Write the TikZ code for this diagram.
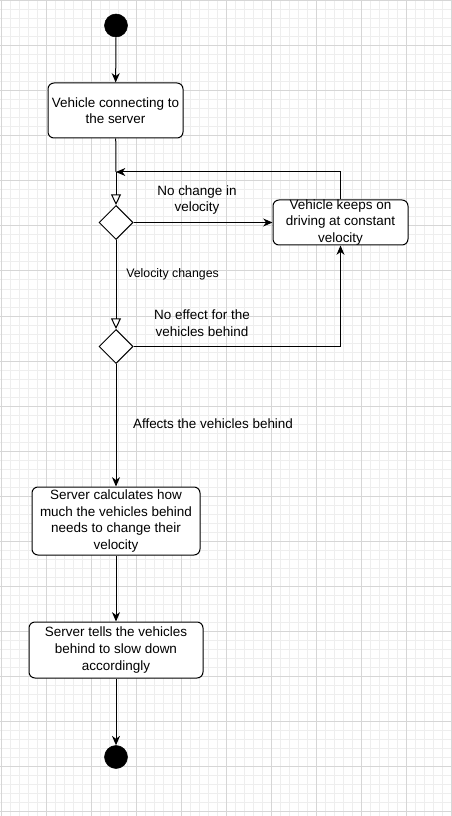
\documentclass[tikz,border=0pt]{standalone}
\usepackage{fontspec}
\setmainfont{Liberation Sans}
\usetikzlibrary{arrows.meta,shapes.geometric}
\definecolor{gridmajor}{HTML}{D6D6D6}
\definecolor{gridminor}{HTML}{EEEEEE}
\tikzset{
  act/.style={draw, line width=0.75pt, rounded corners=4.5pt, fill=white, align=center, inner sep=0pt},
  dot/.style={circle, fill=black, draw=black, minimum size=17.25pt, inner sep=0pt},
  decision/.style={diamond, draw, line width=0.75pt, fill=white, minimum width=25.5pt, minimum height=25.5pt, inner sep=0pt, aspect=1},
  flow/.style={line width=0.75pt, -{Stealth[length=7pt,width=6pt,inset=2.2pt]}},
  openflow/.style={line width=0.75pt, -{Triangle[open,length=8pt,width=7.5pt]}},
  plain/.style={line width=0.75pt},
  lbl/.style={align=center, inner sep=0pt},
}
\begin{document}
\begin{tikzpicture}[x=0.75pt, y=-0.75pt, font=\fontsize{10.1}{12.4}\selectfont]
\useasboundingbox (0,0) rectangle (451,816);
% grid
\foreach \i in {1,10,...,451} {
  \draw[gridminor, line width=0.75pt] (\i,0) -- (\i,816);
}
\foreach \j in {1,10,...,816} {
  \draw[gridminor, line width=0.75pt] (0,\j) -- (451,\j);
}
\foreach \i in {1,46,...,451} {
  \draw[gridmajor, line width=0.75pt] (\i,0) -- (\i,816);
}
\foreach \j in {1,46,...,816} {
  \draw[gridmajor, line width=0.75pt] (0,\j) -- (451,\j);
}
% nodes
\node[dot] (start) at (116,25.5) {};
\node[act, minimum width=101.25pt, minimum height=41.25pt] (b1) at (115.5,110.5) {Vehicle connecting to\\the server};
\coordinate (j) at (116,172);
\node[decision] (d1) at (116,222.5) {};
\node[act, minimum width=101.25pt, minimum height=33.75pt,
  label={[align=center, inner sep=0pt]center:Vehicle keeps on\\driving at constant\\velocity}] (b2) at (340.5,222.5) {};
\node[decision] (d2) at (116,346.5) {};
\node[act, minimum width=126pt, minimum height=51pt] (b3) at (116,521) {Server calculates how\\much the vehicles behind\\needs to change their\\velocity};
\node[act, minimum width=130.5pt, minimum height=42pt] (b4) at (116,650) {Server tells the vehicles\\behind to slow down\\accordingly};
\node[dot] (end) at (116,757) {};
% labels
\node[lbl] (l1) at (197,200) {No change in\\velocity};
\node[lbl, font=\fontsize{9.25}{11}\selectfont, anchor=west] (l2) at (126,274) {Velocity changes};
\node[lbl] (l3) at (202,323) {No effect for the\\vehicles behind};
\node[lbl] (l4) at (213,424) {Affects the vehicles behind};
% connectors
\draw[flow] (start) -- (b1);
\draw[plain] (b1) -- (j);
\draw[openflow] (j) -- (d1.north);
\draw[flow] (d1.east) -- (b2.west);
\draw[flow] (b2.north) |- (j);
\draw[openflow] (d1.south) -- (d2.north);
\draw[flow] (d2.east) -| (b2.south);
\draw[flow] (d2.south) -- (b3.north);
\draw[flow] (b3) -- (b4);
\draw[flow] (b4) -- (end);
\end{tikzpicture}
\end{document}
